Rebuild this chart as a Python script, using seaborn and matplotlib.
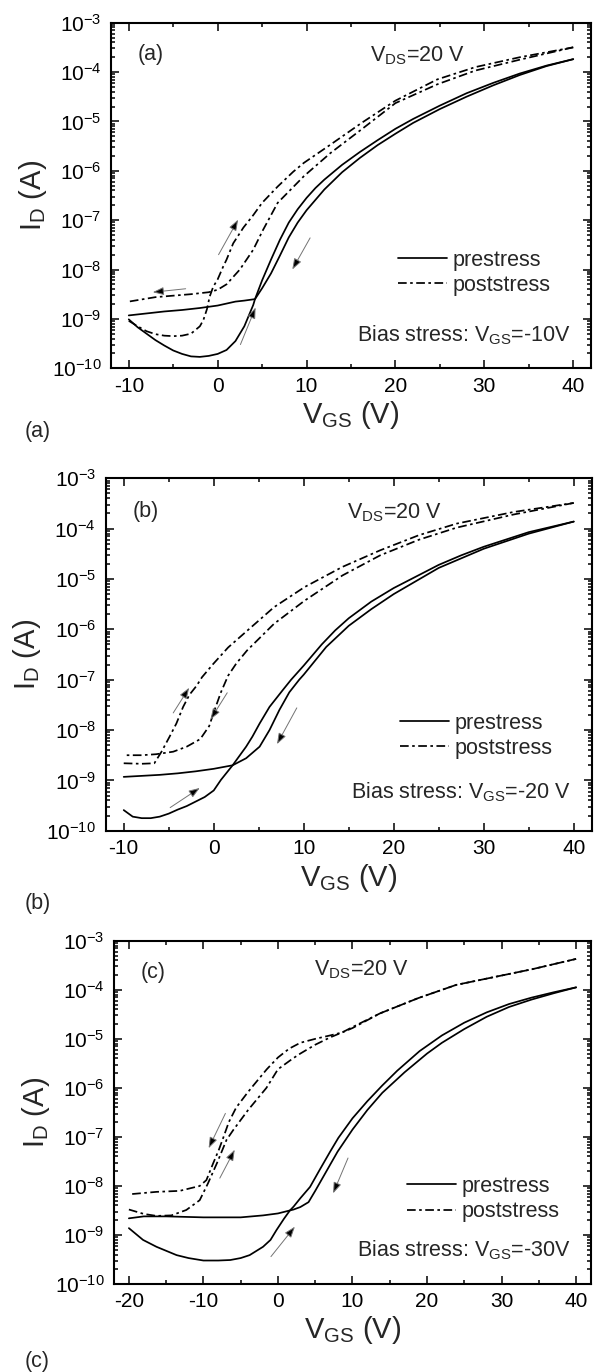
import numpy as np
import pandas as pd
import matplotlib
matplotlib.use("Agg")
import matplotlib.pyplot as plt
import matplotlib.ticker as mticker
from matplotlib.lines import Line2D
import seaborn as sns

# ---------------- data (log10 of I_D in A) ----------------
# panel (a): bias stress VGS = -10 V
a_pre_fwd_v = [-10, -9, -8, -7, -6, -5, -4, -3, -2, -1, 0, 1, 2, 3, 4, 4.2, 5, 6, 7, 8, 9, 10, 11, 12,
               14, 16, 18, 20, 22, 25, 28, 31, 34, 37, 40]
a_pre_fwd_logi = [-9.01, -9.17, -9.3, -9.43, -9.54, -9.64, -9.71, -9.76, -9.77, -9.75, -9.71, -9.63, -9.45,
                  -9.15, -8.72, -8.6, -8.22, -7.8, -7.4, -7.05, -6.78, -6.55, -6.35, -6.18,
                  -5.88, -5.62, -5.38, -5.15, -4.95, -4.68, -4.43, -4.22, -4.03, -3.87, -3.74]
a_pre_rev_v = [40, 37, 34, 31, 28, 25, 22, 20, 18, 16, 14, 12, 10, 9, 8, 7, 6, 5, 4.2, 3, 2, 0,
               -2, -4, -6, -8, -10]
a_pre_rev_logi = [-3.74, -3.88, -4.06, -4.27, -4.5, -4.75, -5.03, -5.25, -5.48, -5.74, -6.03, -6.38, -6.8,
                  -7.05, -7.35, -7.72, -8.08, -8.38, -8.6, -8.63, -8.65, -8.73, -8.78, -8.82, -8.85,
                  -8.89, -8.93]
a_post_fwd_v = [-10, -9, -8, -7, -6, -5, -4, -3, -2, -1.6, -1.2, -0.9, -0.5, 0, 0.6, 1, 1.75, 2.9, 4, 5,
                6.75, 8.5, 9.7, 12.7, 16.2, 20, 24.7, 29, 34, 40]
a_post_fwd_logi = [-9.04, -9.15, -9.25, -9.31, -9.34, -9.35, -9.34, -9.3, -9.15, -9.02, -8.8, -8.55, -8.35,
                   -8.2, -7.95, -7.8, -7.47, -7.15, -6.9, -6.65, -6.32, -6.02, -5.84, -5.47, -5.03,
                   -4.58, -4.15, -3.9, -3.7, -3.5]
a_post_rev_v = [40, 34, 29, 24.7, 20, 16.2, 12.7, 9.7, 6.75, 5.1, 4, 2.5, 1, 0, -1, -3, -5, -7, -10]
a_post_rev_logi = [-3.5, -3.75, -3.97, -4.25, -4.63, -5.16, -5.64, -6.11, -6.65, -7.2, -7.6, -8.0, -8.3,
                   -8.41, -8.46, -8.5, -8.53, -8.56, -8.65]

# panel (b): bias stress VGS = -20 V
b_pre_fwd_v = [-10, -9, -8, -7, -6, -5, -4, -3, -2, -1, 0, 0.8, 2.1, 3.6, 4.3, 5.1, 6.2, 7.7, 8.6, 10,
               12, 13.5, 15, 17.5, 20, 22.5, 25, 27.5, 30, 35, 40]
b_pre_fwd_logi = [-9.59, -9.72, -9.75, -9.75, -9.72, -9.66, -9.58, -9.51, -9.42, -9.33, -9.2, -8.99, -8.7,
                  -8.33, -8.13, -7.87, -7.54, -7.2, -7.0, -6.72, -6.3, -6.02, -5.78, -5.45, -5.18,
                  -4.95, -4.72, -4.53, -4.36, -4.07, -3.86]
b_pre_rev_v = [40, 35, 30, 25, 20, 17.5, 15, 12.5, 10, 9.5, 8.4, 7.3, 6.2, 5.1, 3.6, 2.1, 0, -2, -4, -6,
               -8, -10]
b_pre_rev_logi = [-3.86, -4.1, -4.4, -4.78, -5.3, -5.6, -5.93, -6.35, -6.9, -7.0, -7.25, -7.6, -8.0,
                  -8.33, -8.56, -8.7, -8.77, -8.82, -8.86, -8.89, -8.91, -8.93]
b_post_fwd_v = [-10, -8, -6.6, -5.8, -4.9, -4.15, -3.4, -2.7, -1.9, -1.3, -0.07, 1.6, 3.7, 6.7, 10.1,
                14.3, 18.5, 22.8, 27, 33.3, 40]
b_post_fwd_logi = [-8.66, -8.67, -8.66, -8.43, -8.13, -7.87, -7.54, -7.3, -7.12, -6.95, -6.69, -6.36,
                   -6.03, -5.56, -5.16, -4.76, -4.43, -4.13, -3.9, -3.67, -3.49]
b_post_rev_v = [40, 33.3, 27, 22.8, 18.5, 14.3, 10.1, 6.7, 3.7, 2.5, 1.6, 0.8, 0, -0.5, -1.5, -3, -4.5,
                -6.4, -8, -10]
b_post_rev_logi = [-3.49, -3.72, -3.98, -4.22, -4.53, -4.93, -5.43, -5.89, -6.42, -6.68, -6.92, -7.25,
                   -7.65, -7.92, -8.18, -8.33, -8.43, -8.48, -8.5, -8.5]

# panel (c): bias stress VGS = -30 V
c_pre_fwd_v = [-20, -18.1, -16.3, -13.6, -12, -10, -8, -6.4, -5, -3.8, -2, -1, -0.2, 0.8, 1.6, 2.1, 3,
               4.3, 5.6, 7, 8.1, 10, 12, 14, 16, 19, 22, 25, 28, 31, 34, 37, 40]
c_pre_fwd_logi = [-8.86, -9.1, -9.24, -9.41, -9.47, -9.52, -9.52, -9.51, -9.47, -9.41, -9.24, -9.1, -8.9,
                  -8.67, -8.5, -8.42, -8.25, -8.02, -7.67, -7.3, -7.02, -6.62, -6.27, -5.95, -5.65,
                  -5.25, -4.93, -4.67, -4.46, -4.29, -4.16, -4.05, -3.95]
c_pre_rev_v = [40, 37, 34, 31, 28, 25, 22, 20, 17, 14, 12, 10, 8, 6.5, 5, 4.1, 3, 2.1, 0, -2, -5, -10,
               -15, -18, -20]
c_pre_rev_logi = [-3.95, -4.07, -4.2, -4.35, -4.55, -4.8, -5.08, -5.3, -5.68, -6.1, -6.45, -6.85,
                  -7.3, -7.7, -8.1, -8.33, -8.43, -8.48, -8.56, -8.6, -8.64, -8.64, -8.62, -8.62, -8.66]
c_post_fwd_v = [-20, -18, -16.3, -14.3, -12.3, -10.5, -9.4, -8.2, -6.9, -6, -4, -1.55, 0, 2, 3, 5, 7,
                8.6, 10, 13.7, 18.8, 23.9, 29, 34.1, 40]
c_post_fwd_logi = [-8.48, -8.57, -8.61, -8.6, -8.49, -8.29, -7.95, -7.54, -7.06, -6.86, -6.45, -6.0,
                   -5.62, -5.4, -5.3, -5.12, -4.97, -4.87, -4.78, -4.48, -4.17, -3.9, -3.74, -3.58, -3.37]
c_post_rev_v = [40, 34.1, 29, 23.9, 18.8, 13.7, 10, 8.6, 7, 5, 3, 1.5, 0, -1.5, -3.3, -4.1, -5.6, -6.6,
                -7.3, -7.9, -8.7, -9.6, -10.5, -13.2, -16.3, -20]
c_post_rev_logi = [-3.37, -3.58, -3.74, -3.9, -4.17, -4.48, -4.76, -4.87, -4.93, -5.0, -5.08, -5.2,
                   -5.38, -5.62, -5.95, -6.1, -6.4, -6.7, -7.0, -7.25, -7.54, -7.88, -8.0, -8.1, -8.12,
                   -8.17]

# arrows: (tail V, tail logI, head V, head logI)
a_arrows = [(0.1, -7.70, 2.3, -6.99), (-3.6, -8.39, -7.3, -8.46),
            (2.56, -9.52, 4.27, -8.77), (10.4, -7.36, 8.4, -8.0)]
b_arrows = [(-4.5, -7.66, -2.73, -7.16), (1.5, -7.26, -0.36, -7.79),
            (-4.84, -9.54, -1.55, -9.15), (9.23, -7.56, 7.03, -8.28)]
c_arrows = [(-7.05, -6.52, -9.3, -7.23), (-7.8, -7.84, -5.8, -7.26),
            (9.4, -7.43, 7.4, -8.15), (-0.94, -9.44, 2.27, -8.83)]

panels = [
    dict(letter="(a)", stress="-10V", xlim=(-12, 42), xticks=[-10, 0, 10, 20, 30, 40],
         curves=[(a_pre_fwd_v, a_pre_fwd_logi, "prestress"), (a_pre_rev_v, a_pre_rev_logi, "prestress"),
                 (a_post_fwd_v, a_post_fwd_logi, "poststress"), (a_post_rev_v, a_post_rev_logi, "poststress")],
         arrows=a_arrows, rect=[0.1856, 0.7316, 0.8027, 0.2519],
         vds_x=0.638, vds_y=0.887, bias_y=0.077, leg=(0.597, 0.343), fig_lab_y=1 - 432 / 1372),
    dict(letter="(b)", stress="-20 V", xlim=(-12, 42), xticks=[-10, 0, 10, 20, 30, 40],
         curves=[(b_pre_fwd_v, b_pre_fwd_logi, "prestress"), (b_pre_rev_v, b_pre_rev_logi, "prestress"),
                 (b_post_fwd_v, b_post_fwd_logi, "poststress"), (b_post_rev_v, b_post_rev_logi, "poststress")],
         arrows=b_arrows, rect=[0.1768, 0.3945, 0.8127, 0.2569],
         vds_x=0.594, vds_y=0.886, bias_y=0.093, leg=(0.605, 0.335), fig_lab_y=1 - 903 / 1372),
    dict(letter="(c)", stress="-30V", xlim=(-22, 42), xticks=[-20, -10, 0, 10, 20, 30, 40],
         curves=[(c_pre_fwd_v, c_pre_fwd_logi, "prestress"), (c_pre_rev_v, c_pre_rev_logi, "prestress"),
                 (c_post_fwd_v, c_post_fwd_logi, "poststress"), (c_post_rev_v, c_post_rev_logi, "poststress")],
         arrows=c_arrows, rect=[0.1906, 0.0641, 0.7977, 0.2502],
         vds_x=0.519, vds_y=0.90, bias_y=0.080, leg=(0.614, 0.315), fig_lab_y=1 - 1362 / 1372),
]

sns.set_style("ticks")
plt.rcParams["font.family"] = ["Liberation Sans", "DejaVu Sans"]
plt.rcParams["mathtext.default"] = "regular"
plt.rcParams["axes.unicode_minus"] = False

styles = {"prestress": "-", "poststress": (0, (5, 2, 1.5, 2))}
LW = 1.25
TXT = 15.5

fig = plt.figure(figsize=(5.98, 13.72), dpi=100)

for p in panels:
    ax = fig.add_axes(p["rect"])
    for v, logi, kind in p["curves"]:
        df = pd.DataFrame({"V": v, "I": np.power(10.0, logi)})
        sns.lineplot(data=df, x="V", y="I", sort=False, estimator=None, color="black",
                     linewidth=LW, linestyle=styles[kind], ax=ax)
    ax.set_yscale("log")
    ax.set_ylim(1e-10, 1e-3)
    ax.set_xlim(*p["xlim"])
    ax.set_xticks(p["xticks"])
    ax.xaxis.set_minor_locator(mticker.MultipleLocator(5))
    ax.yaxis.set_major_locator(mticker.LogLocator(base=10, numticks=20))
    ax.yaxis.set_minor_locator(mticker.LogLocator(base=10, subs=np.arange(2, 10), numticks=20))
    ax.yaxis.set_minor_formatter(mticker.NullFormatter())
    ax.tick_params(which="both", direction="in", top=True, right=True, width=1.1, colors="black")
    ax.tick_params(which="major", length=6)
    ax.tick_params(which="minor", length=3)
    ax.tick_params(axis="x", which="major", labelsize=15, pad=6)
    ax.tick_params(axis="y", which="major", labelsize=15, pad=7)
    for s in ax.spines.values():
        s.set_linewidth(1.5)
        s.set_color("black")

    ax.set_xlabel("V$_{GS}$ (V)", fontsize=21)
    ax.set_ylabel("I$_{D}$ (A)", fontsize=21)
    ax.xaxis.set_label_coords(0.5, -0.088)
    ax.yaxis.set_label_coords(-0.13, 0.5)

    for tv, tl, hv, hl in p["arrows"]:
        ax.annotate("", xy=(hv, 10 ** hl), xytext=(tv, 10 ** tl),
                    arrowprops=dict(arrowstyle="-|>,head_length=0.55,head_width=0.2", lw=0.7,
                                    ec="0.45", fc="black", mutation_scale=12, shrinkA=0, shrinkB=0))

    ax.text(0.082, 0.907, p["letter"], transform=ax.transAxes, fontsize=TXT, ha="center", va="center")
    ax.text(p["vds_x"], p["vds_y"], "V$_{DS}$=20 V", transform=ax.transAxes, fontsize=TXT,
            ha="center", va="baseline")
    ax.text(0.958, p["bias_y"], "Bias stress: V$_{GS}$=" + p["stress"], transform=ax.transAxes,
            fontsize=TXT, ha="right", va="baseline")

    handles = [Line2D([], [], color="black", lw=LW, linestyle=styles["prestress"]),
               Line2D([], [], color="black", lw=LW, linestyle=styles["poststress"])]
    ax.legend(handles, ["prestress", "poststress"], frameon=False, fontsize=TXT, loc="upper left",
              bbox_to_anchor=p["leg"], borderaxespad=0, borderpad=0, handlelength=2.3,
              handletextpad=0.25, labelspacing=0.2)

    fig.text(25 / 598, p["fig_lab_y"], p["letter"], fontsize=TXT, ha="left", va="center")

fig.savefig("out.png", dpi=100, facecolor="white")
